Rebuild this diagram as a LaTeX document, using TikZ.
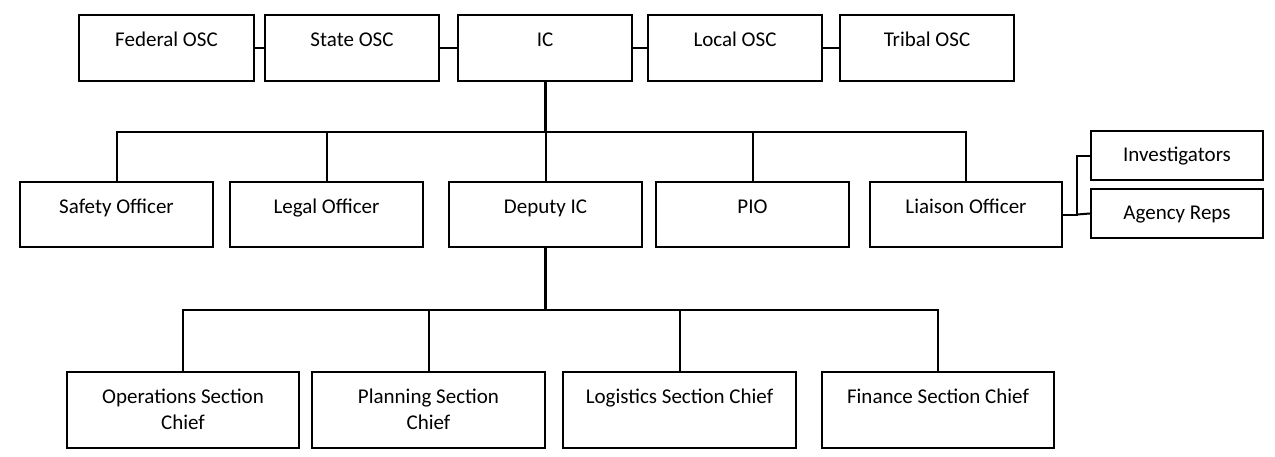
\documentclass[tikz,border=0pt]{standalone}
\usepackage{fontspec}
\setmainfont{Carlito}
\begin{document}
\begin{tikzpicture}[x=1pt,y=-1pt,
  box/.style={draw=black, line width=2.2pt, inner sep=0pt, fill=white},
  lbl/.style={font=\fontsize{21}{26}\selectfont, inner sep=0pt, text height=15pt, text depth=5pt},
  lbltwo/.style={font=\fontsize{21}{26}\selectfont, inner sep=0pt, align=center},
  conn/.style={draw=black, line width=2pt, line join=miter},
  thickconn/.style={draw=black, line width=3pt}]
\useasboundingbox[fill=white] (0,0) rectangle (1275,456);

% top row
\node[box, minimum width=175pt, minimum height=66pt] (fed) at (166.5,48) {};
\node[box, minimum width=174pt, minimum height=66pt] (state) at (352,48) {};
\node[box, minimum width=174pt, minimum height=66pt] (ic) at (545,48) {};
\node[box, minimum width=174pt, minimum height=66pt] (local) at (735,48) {};
\node[box, minimum width=174pt, minimum height=66pt] (tribal) at (927,48) {};
\node[lbl] (fed-t) at (166.5,41.5) {Federal OSC};
\node[lbl] (state-t) at (352,41.5) {State OSC};
\node[lbl] (ic-t) at (545,41.5) {IC};
\node[lbl] (local-t) at (735,41.5) {Local OSC};
\node[lbl] (tribal-t) at (927,41.5) {Tribal OSC};

% second row
\node[box, minimum width=193pt, minimum height=65pt] (safety) at (116.5,214.5) {};
\node[box, minimum width=193pt, minimum height=65pt] (legal) at (326.5,214.5) {};
\node[box, minimum width=193pt, minimum height=65pt] (deputy) at (545.5,214.5) {};
\node[box, minimum width=193pt, minimum height=65pt] (pio) at (752.5,214.5) {};
\node[box, minimum width=192pt, minimum height=65pt] (liaison) at (966,214.5) {};
\node[box, minimum width=172pt, minimum height=49pt] (invest) at (1177,155.5) {};
\node[box, minimum width=172pt, minimum height=49pt] (agency) at (1177,213.5) {};
\node[lbl] (safety-t) at (116.5,208.5) {Safety Officer};
\node[lbl] (legal-t) at (326.5,208.5) {Legal Officer};
\node[lbl] (deputy-t) at (545.5,208.5) {Deputy IC};
\node[lbl] (pio-t) at (752.5,208.5) {PIO};
\node[lbl] (liaison-t) at (966,208.5) {Liaison Officer};
\node[lbl] (invest-t) at (1177,156.5) {Investigators};
\node[lbl] (agency-t) at (1177,214.5) {Agency Reps};

% bottom row
\node[box, minimum width=232pt, minimum height=76pt] (ops) at (183,410) {};
\node[box, minimum width=233pt, minimum height=76pt] (plan) at (428.5,410) {};
\node[box, minimum width=233pt, minimum height=76pt] (logi) at (679.5,410) {};
\node[box, minimum width=232pt, minimum height=76pt] (fin) at (938,410) {};
\node[lbltwo] (ops-t) at (183,409) {Operations Section\\Chief};
\node[lbltwo] (plan-t) at (428.5,409) {Planning Section\\Chief};
\node[lbl] (logi-t) at (679.5,398.5) {Logistics Section Chief};
\node[lbl] (fin-t) at (938,398.5) {Finance Section Chief};

% connectors top row
\draw[conn] (fed.east) -- (state.west);
\draw[conn] (state.east) -- (ic.west);
\draw[conn] (ic.east) -- (local.west);
\draw[conn] (local.east) -- (tribal.west);

% IC to second row
\coordinate (bus1) at (545,132);
\draw[thickconn] (ic.south) -- (ic.south |- bus1);
\draw[conn] (safety.north) -- (safety.north |- bus1) -- (liaison.north |- bus1) -- (liaison.north);
\draw[conn] (legal.north) -- (legal.north |- bus1);
\draw[conn] (deputy.north) -- (deputy.north |- bus1);
\draw[conn] (pio.north) -- (pio.north |- bus1);

% liaison side
\coordinate (lj) at (1077,214.5);
\draw[conn] (liaison.east) -- (lj) |- (invest.west);
\draw[conn] (lj) -- (agency.west);

% deputy to bottom row
\coordinate (bus2) at (545.5,310);
\draw[thickconn] (deputy.south) -- (deputy.south |- bus2);
\draw[conn] (ops.north) -- (ops.north |- bus2) -- (fin.north |- bus2) -- (fin.north);
\draw[conn] (plan.north) -- (plan.north |- bus2);
\draw[conn] (logi.north) -- (logi.north |- bus2);
\end{tikzpicture}
\end{document}
